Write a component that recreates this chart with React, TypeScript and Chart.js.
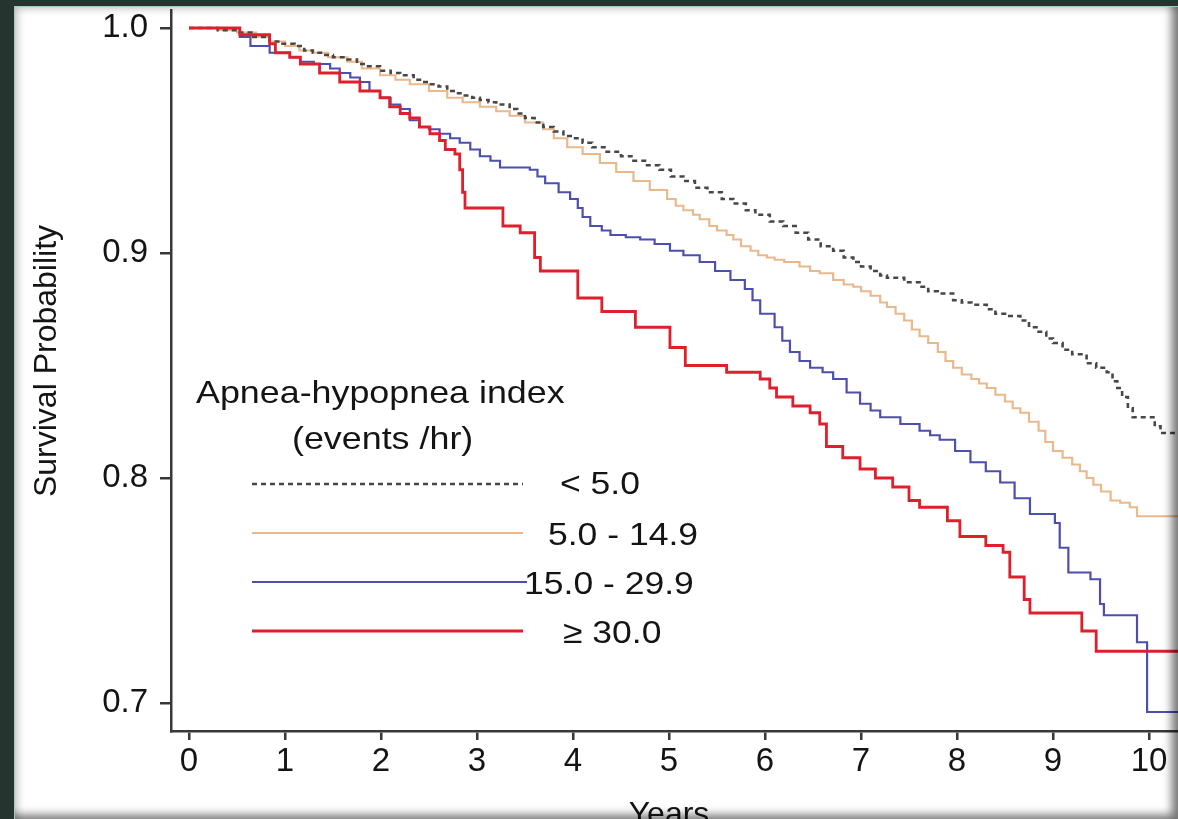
import React, { useEffect, useRef } from "react";
import { Chart, registerables } from "chart.js";

Chart.register(...registerables);

// ---------------- data ----------------
const xTickValues = [0, 1, 2, 3, 4, 5, 6, 7, 8, 9, 10];
const yTickValues = [0.7, 0.8, 0.9, 1.0];

const seriesLabels = ["< 5.0", "5.0 - 14.9", "15.0 - 29.9", "\u2265 30.0"];
const legendTitle = ["Apnea-hypopnea index", "(events /hr)"];
const yAxisTitle = "Survival Probability";
const xAxisTitle = "Years";

const yearsLt5 = [0, 0.3, 0.5, 0.65, 0.84, 0.95, 1.1, 1.2, 1.29, 1.4, 1.5, 1.65, 1.75, 1.85, 1.99, 2.1, 2.2, 2.34, 2.42, 2.5, 2.6, 2.69, 2.78, 2.85, 2.95, 3.03, 3.12, 3.2, 3.34, 3.42, 3.5, 3.6, 3.69, 3.8, 3.9, 4.0, 4.1, 4.2, 4.35, 4.5, 4.63, 4.75, 4.9, 5.02, 5.15, 5.27, 5.4, 5.55, 5.67, 5.8, 5.9, 6.05, 6.19, 6.32, 6.45, 6.58, 6.71, 6.82, 6.92, 7.0, 7.1, 7.2, 7.27, 7.45, 7.61, 7.7, 7.8, 7.96, 8.05, 8.15, 8.31, 8.4, 8.5, 8.66, 8.75, 8.85, 8.93, 9.0, 9.1, 9.2, 9.35, 9.45, 9.56, 9.62, 9.67, 9.72, 9.78, 9.83, 10.06, 10.12, 10.4];
const survLt5 = [1, 0.999, 0.998, 0.996, 0.994, 0.993, 0.992, 0.99, 0.989, 0.988, 0.987, 0.986, 0.984, 0.983, 0.981, 0.98, 0.979, 0.977, 0.976, 0.975, 0.974, 0.972, 0.971, 0.97, 0.969, 0.968, 0.967, 0.966, 0.964, 0.962, 0.96, 0.958, 0.956, 0.954, 0.952, 0.951, 0.949, 0.947, 0.945, 0.943, 0.941, 0.939, 0.937, 0.934, 0.932, 0.929, 0.927, 0.924, 0.922, 0.919, 0.917, 0.914, 0.912, 0.909, 0.906, 0.903, 0.901, 0.898, 0.896, 0.894, 0.892, 0.89, 0.889, 0.887, 0.885, 0.883, 0.882, 0.879, 0.878, 0.877, 0.875, 0.873, 0.872, 0.87, 0.867, 0.865, 0.862, 0.86, 0.857, 0.855, 0.851, 0.849, 0.847, 0.843, 0.84, 0.836, 0.831, 0.827, 0.823, 0.82, 0.82];

const years5to15 = [0, 0.3, 0.5, 0.7, 0.84, 1.0, 1.15, 1.29, 1.45, 1.65, 1.8, 1.99, 2.15, 2.3, 2.5, 2.69, 2.85, 3.03, 3.2, 3.34, 3.5, 3.69, 3.8, 3.94, 4.1, 4.28, 4.45, 4.63, 4.8, 4.98, 5.07, 5.15, 5.25, 5.32, 5.42, 5.5, 5.6, 5.67, 5.75, 5.85, 5.93, 6.02, 6.1, 6.2, 6.36, 6.47, 6.57, 6.71, 6.82, 6.92, 7.0, 7.1, 7.2, 7.27, 7.36, 7.45, 7.53, 7.61, 7.7, 7.8, 7.88, 7.96, 8.05, 8.15, 8.23, 8.31, 8.4, 8.5, 8.58, 8.66, 8.75, 8.85, 8.92, 9.0, 9.1, 9.2, 9.28, 9.35, 9.42, 9.5, 9.6, 9.7, 9.8, 9.875, 10.4];
const surv5to15 = [1, 0.999, 0.998, 0.996, 0.994, 0.992, 0.99, 0.989, 0.987, 0.985, 0.982, 0.979, 0.977, 0.975, 0.972, 0.969, 0.967, 0.965, 0.963, 0.961, 0.958, 0.955, 0.951, 0.947, 0.944, 0.94, 0.936, 0.932, 0.928, 0.924, 0.921, 0.919, 0.917, 0.915, 0.912, 0.91, 0.908, 0.906, 0.903, 0.901, 0.899, 0.898, 0.897, 0.896, 0.894, 0.892, 0.891, 0.888, 0.886, 0.885, 0.883, 0.881, 0.878, 0.876, 0.873, 0.87, 0.866, 0.863, 0.86, 0.856, 0.852, 0.849, 0.846, 0.844, 0.842, 0.84, 0.837, 0.834, 0.831, 0.829, 0.825, 0.821, 0.816, 0.812, 0.809, 0.806, 0.803, 0.8, 0.797, 0.794, 0.79, 0.789, 0.787, 0.783, 0.783];

const years15to30 = [0, 0.4, 0.53, 0.64, 0.84, 1.05, 1.16, 1.3, 1.47, 1.57, 1.68, 1.78, 1.88, 1.99, 2.1, 2.2, 2.3, 2.4, 2.5, 2.61, 2.72, 2.82, 2.93, 3.03, 3.14, 3.24, 3.55, 3.63, 3.71, 3.85, 3.97, 4.05, 4.1, 4.18, 4.3, 4.39, 4.55, 4.7, 4.85, 5.01, 5.15, 5.32, 5.48, 5.64, 5.79, 5.87, 5.95, 6.1, 6.18, 6.26, 6.36, 6.47, 6.6, 6.71, 6.85, 6.99, 7.1, 7.2, 7.41, 7.61, 7.72, 7.82, 7.98, 8.14, 8.3, 8.45, 8.6, 8.76, 9.02, 9.07, 9.16, 9.39, 9.49, 9.53, 9.875, 9.98, 10.4];
const surv15to30 = [1, 1, 0.996, 0.992, 0.989, 0.987, 0.985, 0.984, 0.982, 0.98, 0.978, 0.976, 0.972, 0.969, 0.966, 0.964, 0.959, 0.956, 0.955, 0.953, 0.951, 0.949, 0.946, 0.943, 0.941, 0.938, 0.937, 0.934, 0.931, 0.927, 0.924, 0.92, 0.916, 0.912, 0.91, 0.908, 0.907, 0.906, 0.904, 0.901, 0.899, 0.896, 0.892, 0.888, 0.884, 0.879, 0.873, 0.867, 0.861, 0.856, 0.852, 0.849, 0.847, 0.844, 0.838, 0.833, 0.83, 0.827, 0.824, 0.821, 0.819, 0.817, 0.812, 0.807, 0.803, 0.798, 0.791, 0.784, 0.78, 0.769, 0.758, 0.755, 0.744, 0.739, 0.727, 0.696, 0.696];

const yearsGe30 = [0, 0.4, 0.53, 0.84, 0.9, 1.05, 1.16, 1.36, 1.57, 1.78, 1.99, 2.09, 2.2, 2.3, 2.4, 2.51, 2.61, 2.67, 2.77, 2.82, 2.85, 2.875, 3.27, 3.45, 3.6, 3.66, 4.05, 4.3, 4.65, 5.01, 5.17, 5.6, 5.95, 6.05, 6.12, 6.29, 6.47, 6.57, 6.64, 6.81, 6.99, 7.15, 7.33, 7.5, 7.61, 7.9, 8.03, 8.3, 8.48, 8.55, 8.7, 8.76, 9.3, 9.45, 10.4];
const survGe30 = [1, 1, 0.997, 0.993, 0.989, 0.987, 0.984, 0.98, 0.976, 0.972, 0.969, 0.965, 0.962, 0.96, 0.956, 0.953, 0.95, 0.946, 0.944, 0.937, 0.927, 0.92, 0.912, 0.909, 0.898, 0.892, 0.88, 0.874, 0.867, 0.858, 0.85, 0.847, 0.844, 0.84, 0.836, 0.832, 0.829, 0.824, 0.814, 0.809, 0.804, 0.8, 0.796, 0.79, 0.787, 0.781, 0.774, 0.77, 0.767, 0.756, 0.746, 0.74, 0.732, 0.723, 0.723];

// ---------------- style / layout ----------------
const FONT = "'Liberation Sans', Arial, Helvetica, sans-serif";
const TEXT = "#141414";
const AXIS = "#383838";
const CANVAS_W = 1200;
const CANVAS_H = 819;
const PLOT_LEFT = 171;
const PLOT_TOP = 10;
const PLOT_BOTTOM = 731;
const X_MIN = -0.1875;
const X_MAX = 10.4;
const Y_MIN = 0.68756;
const Y_MAX = 1.008;
const PX_PER_YEAR = 96;

const toPoints = (xs: number[], ys: number[]) => xs.map((x, i) => ({ x, y: ys[i] }));

function stretchedText(ctx: CanvasRenderingContext2D, text: string, x: number, y: number, sx: number) {
  ctx.save();
  ctx.translate(x, y);
  ctx.scale(sx, 1);
  ctx.fillText(text, 0, 0);
  ctx.restore();
}

const overlayPlugin = {
  id: "overlayText",
  afterDraw(chart: any) {
    const ctx: CanvasRenderingContext2D = chart.ctx;
    ctx.save();
    ctx.fillStyle = TEXT;
    ctx.textBaseline = "alphabetic";

    // y axis title
    ctx.save();
    ctx.font = `32px ${FONT}`;
    ctx.translate(56, 361);
    ctx.rotate(-Math.PI / 2);
    ctx.textAlign = "center";
    ctx.fillText(yAxisTitle, 0, 0);
    ctx.restore();

    // x axis title
    ctx.font = `32px ${FONT}`;
    ctx.textAlign = "center";
    ctx.textBaseline = "top";
    ctx.fillText(xAxisTitle, chart.scales.x.getPixelForValue(5), 799);
    ctx.textBaseline = "alphabetic";

    // legend
    ctx.textAlign = "left";
    ctx.font = `32px ${FONT}`;
    stretchedText(ctx, legendTitle[0], 196, 403, 1.12);
    stretchedText(ctx, legendTitle[1], 292, 449, 1.12);

    const rowY = [484, 533, 582, 631];
    const lineEnd = [523, 523, 527, 523];
    const labelX = [560, 548, 524, 563];
    const labelBase = [494, 545, 594, 643];
    [0, 1, 2, 3].forEach((di, i) => {
      const ds = chart.data.datasets[di];
      ctx.save();
      ctx.strokeStyle = ds.borderColor;
      ctx.lineWidth = ds.borderWidth;
      ctx.setLineDash(ds.borderDash || []);
      ctx.beginPath();
      ctx.moveTo(252, rowY[i]);
      ctx.lineTo(lineEnd[i], rowY[i]);
      ctx.stroke();
      ctx.restore();
      ctx.fillStyle = TEXT;
      stretchedText(ctx, seriesLabels[i], labelX[i], labelBase[i], 1.11);
    });
    ctx.restore();
  },
};

export default function App() {
  const canvasRef = useRef<HTMLCanvasElement | null>(null);

  useEffect(() => {
    const canvas = canvasRef.current;
    if (!canvas) return;
    const common = { stepped: "before", pointRadius: 0, fill: false };
    const chart = new Chart(canvas, {
      type: "line",
      data: {
        datasets: [
          {
            ...common,
            label: seriesLabels[0],
            data: toPoints(yearsLt5, survLt5),
            borderColor: "#474747",
            borderWidth: 2.6,
            borderDash: [5, 4],
            order: 1,
          },
          {
            ...common,
            label: seriesLabels[1],
            data: toPoints(years5to15, surv5to15),
            borderColor: "#e9b98c",
            borderWidth: 2.2,
            order: 3,
          },
          {
            ...common,
            label: seriesLabels[2],
            data: toPoints(years15to30, surv15to30),
            borderColor: "#4d4fae",
            borderWidth: 2.2,
            order: 2,
          },
          {
            ...common,
            label: seriesLabels[3],
            data: toPoints(yearsGe30, survGe30),
            borderColor: "#e01f2d",
            borderWidth: 2.8,
            order: 0,
          },
        ],
      },
      options: {
        animation: false,
        responsive: false,
        devicePixelRatio: 1,
        layout: {
          padding: {
            left: 0,
            top: PLOT_TOP,
            bottom: 0,
            right: CANVAS_W - (PLOT_LEFT + (X_MAX - X_MIN) * PX_PER_YEAR),
          },
        },
        plugins: {
          legend: { display: false },
          tooltip: { enabled: false },
          title: { display: false },
        },
        scales: {
          x: {
            type: "linear",
            min: X_MIN,
            max: X_MAX,
            afterBuildTicks: (scale: any) => {
              scale.ticks = xTickValues.map((v) => ({ value: v }));
            },
            afterFit: (scale: any) => {
              scale.height = CANVAS_H - PLOT_BOTTOM;
              scale.paddingLeft = 0;
              scale.paddingRight = 0;
              scale.paddingTop = 0;
              scale.paddingBottom = 0;
            },
            border: { display: true, color: AXIS, width: 2.5 },
            grid: {
              display: true,
              drawOnChartArea: false,
              drawTicks: true,
              tickLength: 9,
              color: AXIS,
              lineWidth: 2.5,
            },
            ticks: {
              autoSkip: false,
              maxRotation: 0,
              padding: 2,
              color: TEXT,
              font: { family: FONT, size: 33 },
              callback: (v: any) => String(v),
            },
          },
          y: {
            type: "linear",
            min: Y_MIN,
            max: Y_MAX,
            afterBuildTicks: (scale: any) => {
              scale.ticks = yTickValues.map((v) => ({ value: v }));
            },
            afterFit: (scale: any) => {
              scale.width = PLOT_LEFT;
              scale.paddingLeft = 0;
              scale.paddingRight = 0;
              scale.paddingTop = 0;
              scale.paddingBottom = 0;
            },
            border: { display: true, color: AXIS, width: 2.5 },
            grid: {
              display: true,
              drawOnChartArea: false,
              drawTicks: true,
              tickLength: 11,
              color: AXIS,
              lineWidth: 2.5,
            },
            ticks: {
              padding: 12,
              color: TEXT,
              font: { family: FONT, size: 33 },
              callback: (v: any) => Number(v).toFixed(1),
            },
          },
        },
      },
      plugins: [overlayPlugin],
    } as any);
    return () => chart.destroy();
  }, []);

  return (
    <div style={{ position: "fixed", left: 0, top: 0, width: "100vw", height: "100vh", overflow: "hidden", background: "#26342f" }}>
      <div
        style={{
          position: "absolute",
          left: 14,
          top: 6,
          right: 0,
          bottom: 0,
          background: "#ffffff",
          borderLeft: "1px solid #9fc9c5",
          borderTop: "1px solid #9fc9c5",
        }}
      />
      <canvas
        ref={canvasRef}
        width={CANVAS_W}
        height={CANVAS_H}
        style={{ position: "absolute", left: 0, top: 0, width: CANVAS_W, height: CANVAS_H }}
      />
      <div
        style={{
          position: "absolute",
          left: 15,
          top: 7,
          right: 0,
          bottom: 0,
          pointerEvents: "none",
          boxShadow:
            "inset 7px 6px 9px -5px rgba(0,0,0,0.28), inset -13px -11px 10px -7px rgba(0,0,0,0.55)",
        }}
      />
    </div>
  );
}
